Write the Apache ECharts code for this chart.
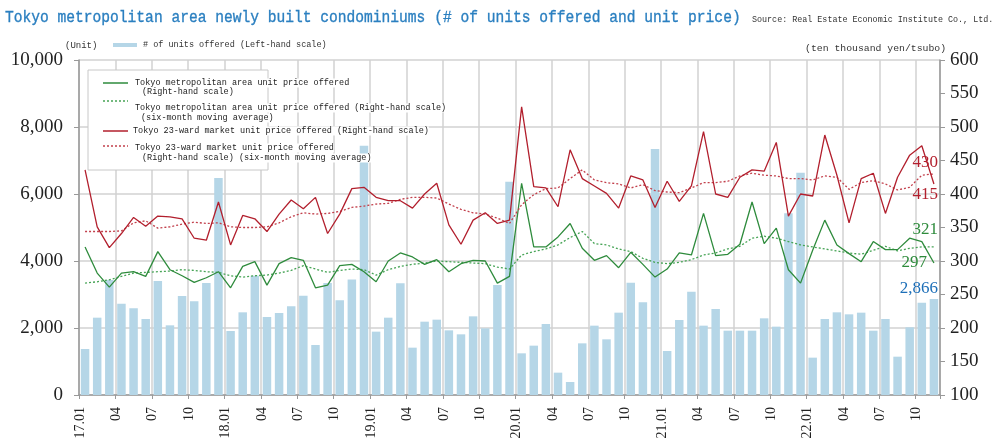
<!DOCTYPE html>
<html><head><meta charset="utf-8">
<script src="https://cdn.jsdelivr.net/npm/echarts@6/dist/echarts.min.js"></script>
<style>html,body{margin:0;padding:0;background:#fff}#c{width:1000px;height:446px}</style>
</head><body><div id="c"></div><script>
const categories = [
'17.01','17.02','17.03','17.04','17.05','17.06','17.07','17.08','17.09','17.10','17.11','17.12',
'18.01','18.02','18.03','18.04','18.05','18.06','18.07','18.08','18.09','18.10','18.11','18.12',
'19.01','19.02','19.03','19.04','19.05','19.06','19.07','19.08','19.09','19.10','19.11','19.12',
'20.01','20.02','20.03','20.04','20.05','20.06','20.07','20.08','20.09','20.10','20.11','20.12',
'21.01','21.02','21.03','21.04','21.05','21.06','21.07','21.08','21.09','21.10','21.11','21.12',
'22.01','22.02','22.03','22.04','22.05','22.06','22.07','22.08','22.09','22.10','22.11'];
const unitsOffered = [
1373,2308,3430,2726,2587,2269,3403,2080,2955,2796,3343,6480,
1910,2468,3562,2328,2448,2647,2965,1492,3343,2830,3450,7440,
1891,2308,3333,1413,2189,2249,1930,1811,2348,1990,3284,6368,
1244,1473,2119,667,388,1542,2070,1662,2458,3353,2766,7343,
1313,2239,3085,2070,2567,1920,1920,1920,2289,2040,5423,6637,
1115,2269,2468,2408,2458,1920,2269,1144,2020,2756,2866];
const metroPrice = [
321,282,261,282,284,277,314,287,278,268,275,284,
260,292,299,264,296,305,301,260,264,293,295,284,
269,300,312,306,295,302,284,296,301,300,267,277,
416,321,321,336,356,319,301,308,290,313,295,276,
288,312,309,371,308,310,325,388,326,349,287,267,
316,361,324,311,299,329,317,317,334,329,297];
const metroPriceMA = [
267,269,272,277,282,283,284,285,287,286,284,283,
278,276,278,279,282,286,293,288,283,286,288,287,
279,287,292,295,297,300,299,298,297,296,291,288,
309,314,318,324,335,344,326,324,318,314,304,298,
296,298,302,309,312,318,322,334,337,334,329,324,
321,318,315,312,310,316,322,315,319,321,321];
const wardPrice = [
436,351,320,341,365,352,367,366,363,334,331,388,
324,368,363,344,370,391,378,395,341,370,408,410,
395,390,390,379,400,416,354,325,361,372,356,361,
530,411,409,381,466,423,412,401,379,427,421,380,
419,389,412,493,400,395,425,436,434,477,367,400,
397,488,428,357,423,431,371,425,458,472,415];
const wardPriceMA = [
344,344,344,345,357,360,349,351,355,358,356,357,
351,350,350,351,357,366,372,370,371,374,380,382,
385,386,392,395,395,394,385,377,372,370,364,356,
384,399,408,409,423,436,421,417,415,409,414,405,
403,402,409,417,417,419,427,431,428,427,423,423,
421,427,425,407,417,420,415,406,410,428,430];
const leftTicks = {min:0, max:10000, interval:2000};
const rightTicks = {min:100, max:600, interval:50};

const C = {
  bar:'#b5d6e7', green:'#2e8b3c', greenMA:'#47a456', red:'#b21f2d', redMA:'#c2404c',
  blueLbl:'#1d6fb8', grid:'#d2d2d2', axis:'#999'
};
const serif = '"Liberation Serif", "DejaVu Serif", serif';
const mono = '"Liberation Mono", "DejaVu Sans Mono", monospace';
const last = categories.length - 1;

function endMark(val, color, offset) {
  return {
    symbol:'circle', symbolSize:0, silent:true, animation:false,
    data:[{coord:[categories[last], val], value:val}],
    label:{show:true, position:'inside', align:'right', verticalAlign:'middle', offset:offset,
      color:color, fontFamily:serif, fontSize:17,
      formatter:p => Number(p.value).toLocaleString('en-US')}
  };
}

const chart = echarts.init(document.getElementById('c'), null, {renderer:'canvas'});
const txt = (x, y, text, size, fill, extra) => ({type:'text', x:x, y:y, z:100,
  style:Object.assign({text:text, fontFamily:mono, fontSize:size, fill:fill||'#222', verticalAlign:'middle', align:'left'}, extra||{})});
const legendBg = {backgroundColor:'#fff'};

const title = txt(5, 17, 'Tokyo metropolitan area newly built condominiums (# of units offered and unit price)', 14.6, '#2a7fc0',
  {stroke:'#2a7fc0', lineWidth:0.3});
title.scaleY = 1.18; title.originY = 0;

chart.setOption({
  animation:false,
  grid:{left:79, right:60, top:60, bottom:51},
  xAxis:{
    type:'category', data:categories, boundaryGap:true,
    axisLine:{lineStyle:{color:C.axis, width:1.5}},
    axisTick:{show:true, interval:2, length:4, lineStyle:{color:C.axis}},
    splitLine:{show:true, interval:2, lineStyle:{color:C.grid, width:1.5}},
    axisLabel:{interval:2, rotate:90, margin:12, color:'#222', fontFamily:serif, fontSize:14,
      lineHeight:10,
      formatter:v => (v.endsWith('.01') ? v : v.slice(3)) + '\n '}
  },
  yAxis:[
    {type:'value', min:leftTicks.min, max:leftTicks.max, interval:leftTicks.interval,
     axisLine:{show:true, lineStyle:{color:C.axis, width:1.5}},
     axisTick:{show:true, length:5, lineStyle:{color:C.axis}},
     splitLine:{show:true, lineStyle:{color:C.grid, width:1.5}},
     axisLabel:{margin:16, color:'#222', fontFamily:serif, fontSize:19,
       formatter:v => Number(v).toLocaleString('en-US')}},
    {type:'value', position:'right', min:rightTicks.min, max:rightTicks.max, interval:rightTicks.interval,
     axisLine:{show:true, lineStyle:{color:C.axis, width:1.5}},
     axisTick:{show:true, length:5, lineStyle:{color:C.axis}},
     splitLine:{show:false},
     axisLabel:{margin:10, color:'#222', fontFamily:serif, fontSize:19}}
  ],
  series:[
    {name:'# of units offered', type:'bar', yAxisIndex:0, data:unitsOffered, barWidth:'70%',
     itemStyle:{color:C.bar},
     markPoint:endMark(unitsOffered[last], C.blueLbl, [4,-10])},
    {name:'metroMA', type:'line', yAxisIndex:1, data:metroPriceMA, symbol:'none',
     lineStyle:{color:C.greenMA, width:1.3, type:[2,2]},
     markPoint:endMark(metroPriceMA[last], C.green, [4,-17])},
    {name:'metro', type:'line', yAxisIndex:1, data:metroPrice, symbol:'none',
     lineStyle:{color:C.green, width:1.3},
     markPoint:endMark(metroPrice[last], C.green, [-7,0])},
    {name:'wardMA', type:'line', yAxisIndex:1, data:wardPriceMA, symbol:'none',
     lineStyle:{color:C.redMA, width:1.3, type:[2,2]},
     markPoint:endMark(wardPriceMA[last], C.red, [4,-11])},
    {name:'ward', type:'line', yAxisIndex:1, data:wardPrice, symbol:'none',
     lineStyle:{color:C.red, width:1.3},
     markPoint:endMark(wardPrice[last], C.red, [4,11])}
  ],
  graphic:[
    title,
    txt(752, 20, 'Source: Real Estate Economic Institute Co., Ltd.', 8.4, '#333'),
    txt(65, 46, '(Unit)', 9, '#333'),
    {type:'rect', z:100, shape:{x:113, y:43, width:24, height:4}, style:{fill:C.bar}},
    txt(143, 45, '# of units offered (Left-hand scale)', 8.5, '#333'),
    txt(805, 48, '(ten thousand yen/tsubo)', 9.8, '#333'),
    {type:'rect', z:99, shape:{x:88, y:70, width:180, height:100}, style:{fill:'#fff', stroke:'#c8c8c8', lineWidth:1}},
    {type:'line', z:100, shape:{x1:103, y1:83, x2:128, y2:83}, style:{stroke:C.green, lineWidth:1.5}},
    {type:'line', z:100, shape:{x1:103, y1:101, x2:128, y2:101}, style:{stroke:C.greenMA, lineWidth:1.5, lineDash:[2,2]}},
    {type:'line', z:100, shape:{x1:103, y1:131, x2:128, y2:131}, style:{stroke:C.red, lineWidth:1.5}},
    {type:'line', z:100, shape:{x1:103, y1:146, x2:128, y2:146}, style:{stroke:C.redMA, lineWidth:1.5, lineDash:[2,2]}},
    txt(135, 83, 'Tokyo metropolitan area unit price offered', 8.5, '#222', legendBg),
    txt(142, 92, '(Right-hand scale)', 8.5, '#222', legendBg),
    txt(135, 108, 'Tokyo metropolitan area unit price offered (Right-hand scale)', 8.5, '#222', legendBg),
    txt(141, 118, '(six-month moving average)', 8.5, '#222', legendBg),
    txt(133, 131, 'Tokyo 23-ward market unit price offered (Right-hand scale)', 8.5, '#222', legendBg),
    txt(135, 148, 'Tokyo 23-ward market unit price offered', 8.5, '#222', legendBg),
    txt(142, 158, '(Right-hand scale) (six-month moving average)', 8.5, '#222', legendBg)
  ]
});
</script></body></html>
